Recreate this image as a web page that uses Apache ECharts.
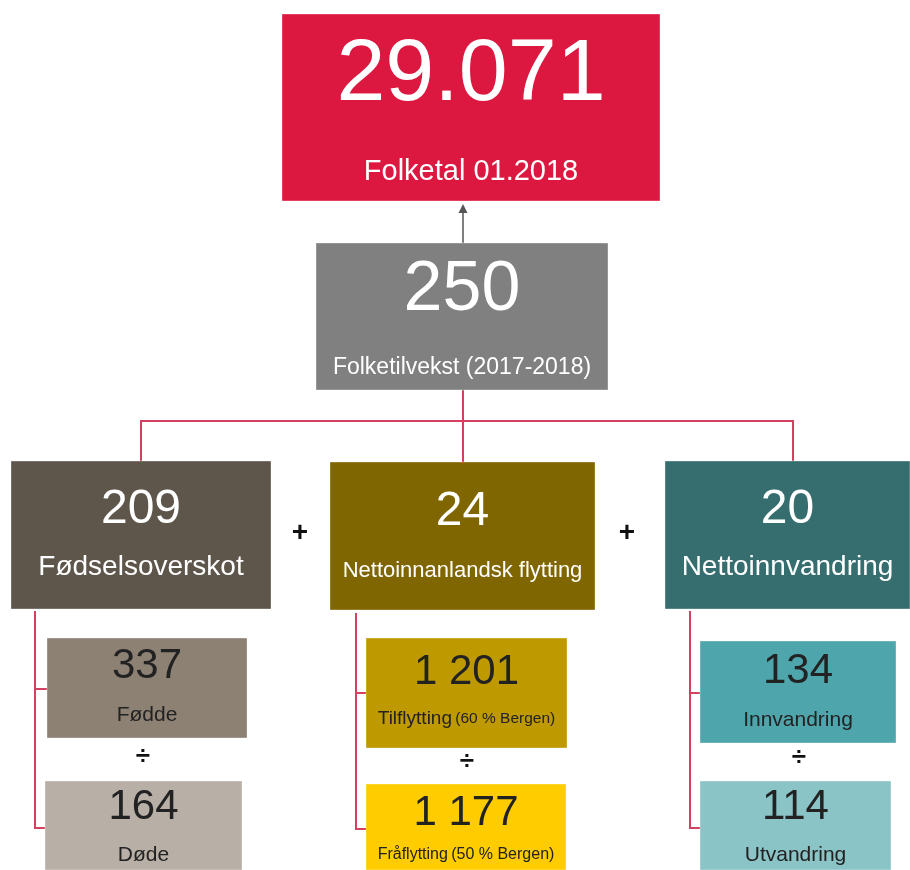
<!DOCTYPE html>
<html>
<head>
<meta charset="utf-8">
<script src="https://cdn.jsdelivr.net/npm/echarts@6/dist/echarts.min.js"></script>
<style>html,body{margin:0;padding:0;background:#fff}#main{width:910px;height:870px}</style>
</head>
<body>
<div id="main"></div>
<script>
// ---- data ----
const boxValues = [29071, 250, 209, 24, 20, 337, 164, 1201, 1177, 134, 114];
const boxLabels = ['Folketal 01.2018', 'Folketilvekst (2017-2018)', 'Fødselsoverskot',
  'Nettoinnanlandsk flytting', 'Nettoinnvandring', 'Fødde', 'Døde',
  'Tilflytting', 'Fråflytting', 'Innvandring', 'Utvandring'];
const boxNotes = ['', '', '', '', '', '', '', '(60 % Bergen)', '(50 % Bergen)', '', ''];
const operators = ['+', '+', '÷', '÷', '÷'];

// ---- layout / style (diagram coordinates) ----
const FONT = '"Liberation Sans", Arial, sans-serif';
const layout = [
  {r:[282,14,660,201], fill:'#DC1840', c:'#ffffff', vs:88, vy:76, ls:29, ly:172, sep:'.'},
  {r:[316,243,608,390], fill:'#808080', c:'#ffffff', vs:70, vy:291, ls:23, ly:368},
  {r:[11,461,271,609], fill:'#5E554B', c:'#ffffff', vs:48, vy:510, ls:28, ly:567},
  {r:[330,462,595,610], fill:'#806600', c:'#ffffff', vs:48, vy:512, ls:22, ly:571},
  {r:[665,461,910,609], fill:'#366E70', c:'#ffffff', vs:48, vy:510, ls:28, ly:567},
  {r:[47,638,247,738], fill:'#8D8174', c:'#222222', vs:42, vy:666, ls:21, ly:715},
  {r:[45,781,242,870], fill:'#B8AFA6', c:'#222222', vs:42, vy:807, ls:21, ly:855},
  {r:[366,638,567,748], fill:'#BF9900', c:'#222222', vs:42, vy:672, ls:19, ly:719, ns:15.5},
  {r:[366,784,566,870], fill:'#FFCC00', c:'#222222', vs:42, vy:813, ls:16, ly:855, ns:16},
  {r:[700,641,896,743], fill:'#4EA5AC', c:'#222222', vs:42, vy:671, ls:21, ly:720},
  {r:[700,781,891,870], fill:'#8AC4C7', c:'#222222', vs:42, vy:807, ls:21, ly:855}
];
const opPos = [[300,533,28],[627,533,28],[143,757,26],[467,762,26],[799,758,26]];
const LINE = '#D4405F';
const segments = [
  [463,390,463,462],[141,421,793,421],[141,420,141,461],[793,420,793,461],
  [35,611,35,829],[34,689,47,689],[34,828,45,828],
  [356,613,356,830],[355,693,366,693],[355,829,366,829],
  [690,611,690,829],[689,693,700,693],[689,828,700,828]
];
const arrowSeg = [463,243,463,204];

function fmt(v, sep) {
  return String(v).replace(/\B(?=(\d{3})+(?!\d))/g, sep || ' ');
}

const chart = echarts.init(document.getElementById('main'), null, {renderer:'canvas'});
chart.setOption({
  animation:false,
  backgroundColor:'#ffffff',
  grid:{left:0,right:0,top:0,bottom:0},
  xAxis:{type:'value',min:0,max:910,show:false},
  yAxis:{type:'value',min:0,max:870,inverse:true,show:false},
  series:[
    {
      type:'custom', coordinateSystem:'cartesian2d', silent:true, clip:false,
      data: segments.map((s,i)=>[i]),
      renderItem:function(params, api){
        const s = segments[api.value(0)];
        const p1 = api.coord([s[0],s[1]]), p2 = api.coord([s[2],s[3]]);
        return {type:'line', shape:{x1:p1[0],y1:p1[1],x2:p2[0],y2:p2[1]},
          style:{stroke:LINE, lineWidth:2}};
      }
    },
    {
      type:'custom', coordinateSystem:'cartesian2d', silent:true, clip:false,
      data:[[0]],
      renderItem:function(params, api){
        const p1 = api.coord([arrowSeg[0],arrowSeg[1]]), p2 = api.coord([arrowSeg[2],arrowSeg[3]]);
        return {type:'group', children:[
          {type:'line', shape:{x1:p1[0],y1:p1[1],x2:p2[0],y2:p2[1]+6}, style:{stroke:'#555555', lineWidth:1.5}},
          {type:'polygon', shape:{points:[[p2[0],p2[1]],[p2[0]-4.5,p2[1]+9],[p2[0]+4.5,p2[1]+9]]}, style:{fill:'#555555'}}
        ]};
      }
    },
    {
      type:'custom', coordinateSystem:'cartesian2d', silent:true, clip:false,
      data: boxValues.map((v,i)=>[i, v]),
      renderItem:function(params, api){
        const i = api.value(0);
        const L = layout[i];
        const a = api.coord([L.r[0],L.r[1]]), b = api.coord([L.r[2],L.r[3]]);
        const cx = (a[0]+b[0])/2;
        const children = [
          {type:'rect', shape:{x:a[0],y:a[1],width:b[0]-a[0],height:b[1]-a[1]},
            style:{fill:L.fill, stroke:'rgba(255,255,255,0.35)', lineWidth:1}},
          {type:'text', x:cx, y:api.coord([0,L.vy])[1],
            style:{text:fmt(boxValues[i], L.sep), fill:L.c, font:L.vs+'px '+FONT, align:'center', verticalAlign:'middle'}}
        ];
        const ly = api.coord([0,L.ly])[1];
        if (boxNotes[i]) {
          children.push({type:'text', x:cx, y:ly,
            style:{text:'{a|'+boxLabels[i]+'} {b|'+boxNotes[i]+'}', align:'center', verticalAlign:'middle',
              rich:{a:{fontSize:L.ls, fontFamily:FONT, fill:L.c, color:L.c},
                    b:{fontSize:L.ns, fontFamily:FONT, fill:L.c, color:L.c}}}});
        } else {
          children.push({type:'text', x:cx, y:ly,
            style:{text:boxLabels[i], fill:L.c, font:L.ls+'px '+FONT, align:'center', verticalAlign:'middle'}});
        }
        return {type:'group', children:children};
      }
    },
    {
      type:'custom', coordinateSystem:'cartesian2d', silent:true, clip:false,
      data: operators.map((o,i)=>[i]),
      renderItem:function(params, api){
        const i = api.value(0);
        const p = api.coord([opPos[i][0], opPos[i][1]]);
        return {type:'text', x:p[0], y:p[1],
          style:{text:operators[i], fill:'#111111', font:'bold '+opPos[i][2]+'px '+FONT, align:'center', verticalAlign:'middle'}};
      }
    }
  ]
});
</script>
</body>
</html>
